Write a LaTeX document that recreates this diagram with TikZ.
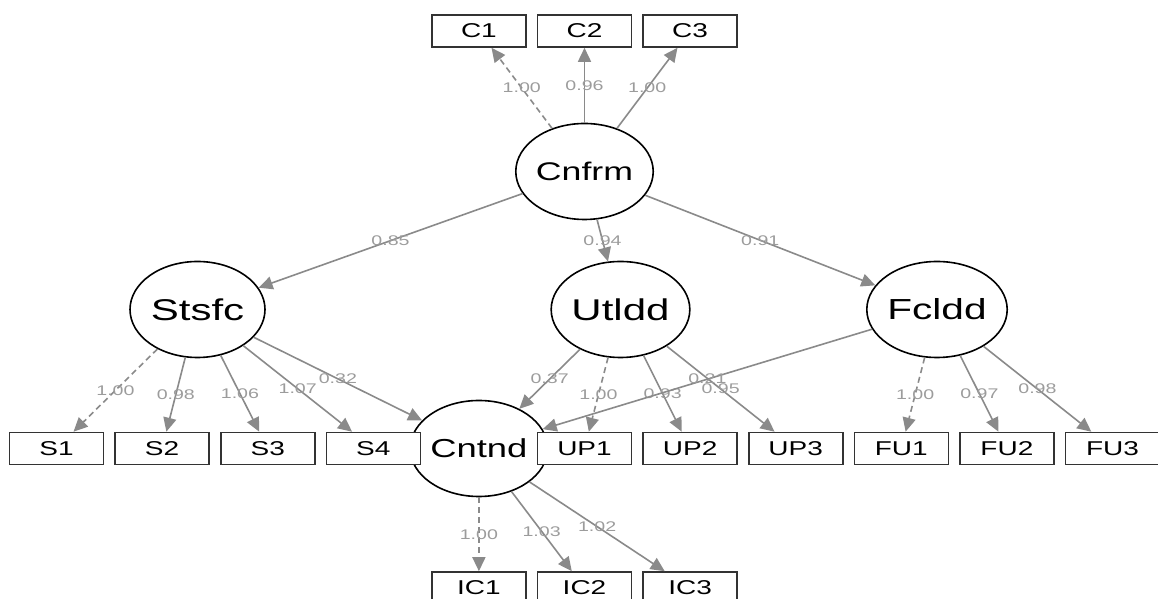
\documentclass[tikz,border=0pt]{standalone}
\usepackage{fontspec}
\setmainfont{Liberation Sans}[FakeStretch=1.4]
\usepackage{tikz}
\usetikzlibrary{shapes.geometric}
\usetikzlibrary{arrows.meta}
\definecolor{Trait}{HTML}{8A8A8A}
\definecolor{Etiquette}{HTML}{9C9C9C}

\tikzset{
  latente/.style={ellipse, draw=black, line width=1.6pt, fill=white,
    minimum width=135pt, minimum height=96pt, inner sep=0pt},
  indic/.style={rectangle, draw=black!80, line width=1.6pt, fill=white,
    minimum width=94pt, minimum height=32pt, inner sep=0pt,
    font=\fontsize{20}{22}\selectfont},
  fleche/.style={draw=Trait, line width=1.6pt, -{Triangle[length=14pt,width=13pt]}},
  fixe/.style={fleche, dash pattern=on 6pt off 4pt},
  poids/.style={text=Etiquette, font=\fontsize{14}{16}\selectfont, inner sep=0pt},
}

\begin{document}
\begin{tikzpicture}[x=1pt,y=1pt]
\clip (0,0) rectangle (1158,599);

% Variable de second ordre
\node[latente, font=\fontsize{25.5}{28}\selectfont] (Cnfrm) at (584.5,427.5) {Cnfrm};

% Variables de premier ordre
\node[latente, font=\fontsize{30}{32}\selectfont] (Stsfc) at (197.5,289.5) {Stsfc};
\node[latente, font=\fontsize{30}{32}\selectfont] (Utldd) at (620.5,289.5) {Utldd};
\node[latente, font=\fontsize{29}{32}\selectfont] (Fcldd) at (937,289.5) {Fcldd};
\node[latente, font=\fontsize{26}{28}\selectfont] (Cntnd) at (478.9,150.5) {Cntnd};

% Indicateurs du haut
\node[indic] (C1) at (478.9,568) {C1};
\node[indic] (C2) at (584.5,568) {C2};
\node[indic] (C3) at (690.1,568) {C3};

% Indicateurs du milieu
\node[indic] (S1) at (56.5,150.5) {S1};
\node[indic] (S2) at (162.1,150.5) {S2};
\node[indic] (S3) at (267.7,150.5) {S3};
\node[indic] (S4) at (373.3,150.5) {S4};
\node[indic] (UP1) at (584.5,150.5) {UP1};
\node[indic] (UP2) at (690.1,150.5) {UP2};
\node[indic] (UP3) at (795.7,150.5) {UP3};
\node[indic] (FU1) at (901.3,150.5) {FU1};
\node[indic] (FU2) at (1006.9,150.5) {FU2};
\node[indic] (FU3) at (1112.5,150.5) {FU3};

% Indicateurs du bas
\node[indic] (IC1) at (478.9,11) {IC1};
\node[indic] (IC2) at (584.5,11) {IC2};
\node[indic] (IC3) at (690.1,11) {IC3};

% Cnfrm
\draw[fixe] (Cnfrm) -- node[poids] {1.00} (C1);
\draw[fleche] (Cnfrm) -- node[poids] {0.96} (C2);
\draw[fleche] (Cnfrm) -- node[poids] {1.00} (C3);
\draw[fleche] (Cnfrm) -- node[poids] {0.85} (Stsfc);
\draw[fleche] (Cnfrm) -- node[poids] {0.94} (Utldd);
\draw[fleche] (Cnfrm) -- node[poids] {0.91} (Fcldd);

% Stsfc
\draw[fixe] (Stsfc) -- node[poids] {1.00} (S1);
\draw[fleche] (Stsfc) -- node[poids] {0.98} (S2);
\draw[fleche] (Stsfc) -- node[poids] {1.06} (S3);
\draw[fleche] (Stsfc) -- node[poids] {1.07} (S4);
\draw[fleche] (Stsfc) -- node[poids] {0.32} (Cntnd);

% Utldd
\draw[fixe] (Utldd) -- node[poids] {1.00} (UP1);
\draw[fleche] (Utldd) -- node[poids] {0.93} (UP2);
\draw[fleche] (Utldd) -- node[poids] {0.95} (UP3);
\draw[fleche] (Utldd) -- node[poids] {0.37} (Cntnd);

% Fcldd
\draw[fixe] (Fcldd) -- node[poids] {1.00} (FU1);
\draw[fleche] (Fcldd) -- node[poids] {0.97} (FU2);
\draw[fleche] (Fcldd) -- node[poids] {0.98} (FU3);
\draw[fleche] (Fcldd) -- node[poids] {0.21} (Cntnd);

% Cntnd
\draw[fixe] (Cntnd) -- node[poids] {1.00} (IC1);
\draw[fleche] (Cntnd) -- node[poids] {1.03} (IC2);
\draw[fleche] (Cntnd) -- node[poids] {1.02} (IC3);
\end{tikzpicture}
\end{document}
